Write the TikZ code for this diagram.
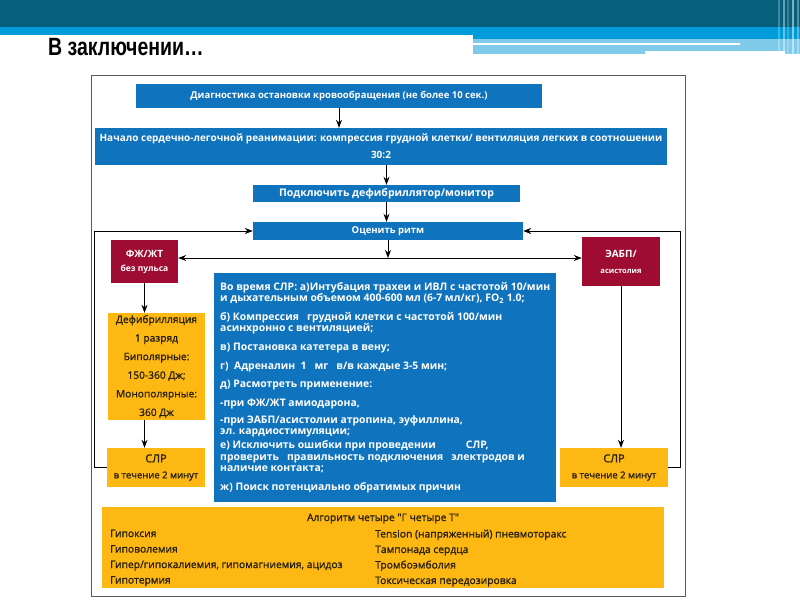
\documentclass[tikz,border=0pt]{standalone}
\usepackage{fontspec}
\setmainfont{Open Sans}
\newfontfamily\titlefont{Liberation Sans}
\newfontfamily\medfont{Open Sans}[FakeBold=1.2]
\usetikzlibrary{arrows.meta,positioning,calc}
\definecolor{hdrdark}{RGB}{5,97,123}
\definecolor{hdrblue}{RGB}{0,155,217}
\definecolor{hdrlight}{RGB}{128,203,234}
\definecolor{boxblue}{RGB}{16,115,190}
\definecolor{boxred}{RGB}{158,12,50}
\definecolor{boxorange}{RGB}{253,184,19}
\definecolor{darktext}{RGB}{40,32,10}

\begin{document}
\begin{tikzpicture}[
  x=1pt, y=-1pt,
  bluebox/.style={fill=boxblue, text=white, inner sep=0pt, align=center,
    font=\fontsize{9.5}{11}\selectfont\bfseries},
  redbox/.style={fill=boxred, text=white, inner sep=0pt, align=center,
    font=\fontsize{10}{14}\selectfont\bfseries},
  orangebox/.style={fill=boxorange, text=darktext, inner sep=0pt, align=center},
  causetext/.style={text=darktext, inner sep=0pt, align=left,
    font=\medfont\fontsize{10.3}{15.5}\selectfont},
  arr/.style={-{Stealth[length=8pt,width=6pt]}, black, line width=0.8pt},
]
\useasboundingbox (0,0) rectangle (800,600);

% Slide header
\fill[hdrdark] (0,0) rectangle (800,27);
\fill[hdrblue] (0,27) rectangle (800,35);
\fill[hdrblue] (473,35) rectangle (800,39);
\fill[hdrlight] (473,39) rectangle (800,54);
\fill[white] (473,43) rectangle (740,45);
\fill[white] (645,51) rectangle (785,54);
\foreach \sx/\op in {778/0.25, 783/0.4, 787/0.2, 792/0.5, 797/0.3}
  \fill[white, opacity=\op] (\sx,0) rectangle ++(1.5,54);
\node[anchor=base west, inner sep=0pt, xscale=0.78,
  font=\titlefont\fontsize{25}{25}\selectfont\bfseries] (title) at (48,55)
  {В заключении…};

% Frame
\draw[gray!70!black, line width=0.6pt] (91,75) rectangle (685,596);

% Main chain
\node[bluebox, minimum width=406, minimum height=24] (diag) at (339,96)
  {Диагностика остановки кровообращения (не более 10 сек.)};
\node[bluebox, minimum width=572, minimum height=37,
  font=\fontsize{10}{17}\selectfont\bfseries] (cpr) at (381,146.5)
  {Начало сердечно-легочной реанимации: компрессия грудной клетки/ вентиляция легких в соотношении\\30:2};
\node[bluebox, minimum width=267, minimum height=17,
  font=\fontsize{10.5}{11}\selectfont\bfseries] (mon) at (386.5,193.5)
  {Подключить дефибриллятор/монитор};
\node[bluebox, minimum width=270, minimum height=18] (rhythm) at (388,231)
  {Оценить ритм};
\coordinate (split) at (388,258);

% Rhythm branches
\node[redbox, minimum width=67, minimum height=43] (vf) at (144.5,261.5)
  {ФЖ/ЖТ\\{\fontsize{8.5}{9}\selectfont без пульса}};
\node[redbox, minimum width=78, minimum height=49] (asys) at (621,261.5)
  {ЭАБП/\\[2pt]{\fontsize{7.5}{9}\selectfont асистолия}};
\node[orangebox, minimum width=97, minimum height=107,
  font=\medfont\fontsize{10.2}{18.6}\selectfont] (shock) at (156.5,366.5)
  {Дефибрилляция\\1 разряд\\Биполярные:\\150-360 Дж;\\Монополярные:\\360 Дж};
\node[orangebox, minimum width=98, minimum height=39,
  font=\medfont\fontsize{9.5}{16}\selectfont] (cprL) at (156,467.5)
  {{\fontsize{11}{16}\selectfont СЛР}\\в течение 2 минут};
\node[orangebox, minimum width=108, minimum height=39,
  font=\medfont\fontsize{9.5}{16}\selectfont] (cprR) at (614,467.5)
  {{\fontsize{11}{16}\selectfont СЛР}\\в течение 2 минут};

% During CPR
\node[bluebox, anchor=north west, minimum width=342, minimum height=229,
  align=left, inner xsep=6pt,
  font=\fontsize{10.4}{11.5}\selectfont\bfseries] (during) at (214,273)
  {Во время СЛР: а)Интубация трахеи и ИВЛ с частотой 10/мин\\
   и дыхательным объемом 400-600 мл (6-7 мл/кг), FO\textsubscript{2} 1.0;\\[7pt]
   б) Компрессия\ \ \ грудной клетки с частотой 100/мин\\
   асинхронно с вентиляцией;\\[7pt]
   в) Постановка катетера в вену;\\[7.5pt]
   г)\ \ Адреналин\ \ 1\ \ \ мг\ \ \ в/в каждые 3-5 мин;\\[6.5pt]
   д) Расмотреть применение:\\[7.5pt]
   -при ФЖ/ЖТ амиодарона,\\[5.5pt]
   -при ЭАБП/асистолии атропина, эуфиллина,\\
   эл. кардиостимуляции;\\[2.5pt]
   е) Исключить ошибки при проведении\hspace{30pt}СЛР,\\
   проверить\ \ \ правильность подключения\ \ \ электродов и\\
   наличие контакта;\\[7.5pt]
   ж) Поиск потенциально обратимых причин};

% Four H and four T
\node[orangebox, minimum width=562, minimum height=81] (causes) at (383,547.5) {};
\node[causetext, anchor=base] (causetitle) at (383,521)
  {Алгоритм четыре "Г четыре Т"};
\node[causetext, anchor=north west] (hcol) at (110,529.5)
  {Гипоксия\\Гиповолемия\\Гипер/гипокалиемия, гипомагниемия, ацидоз\\Гипотермия};
\node[causetext, anchor=north west] (tcol) at (375,529.5)
  {Tension (напряженный) пневмоторакс\\Тампонада сердца\\Тромбоэмболия\\Токсическая передозировка};

% Connectors
\draw[arr] (diag.south) -- (diag.south |- cpr.north);
\draw[arr] (mon.north |- cpr.south) -- (mon.north);
\draw[arr] (mon.south) -- (mon.south |- rhythm.north);
\draw[arr] (rhythm.south) -- (split);
\draw[arr] (split) -- (split -| vf.east);
\draw[arr] (split) -- (split -| asys.west);
\draw[arr] (vf.south) -- (vf.south |- shock.north);
\draw[arr] (vf.south |- shock.south) -- (vf.south |- cprL.north);
\draw[arr] (asys.south) -- (asys.south |- cprR.north);
\draw[arr] (cprL.west) -- ++(-12,0) |- (rhythm.west);
\draw[arr] (cprR.east) -- ++(12,0) |- (rhythm.east);

\end{tikzpicture}
\end{document}
